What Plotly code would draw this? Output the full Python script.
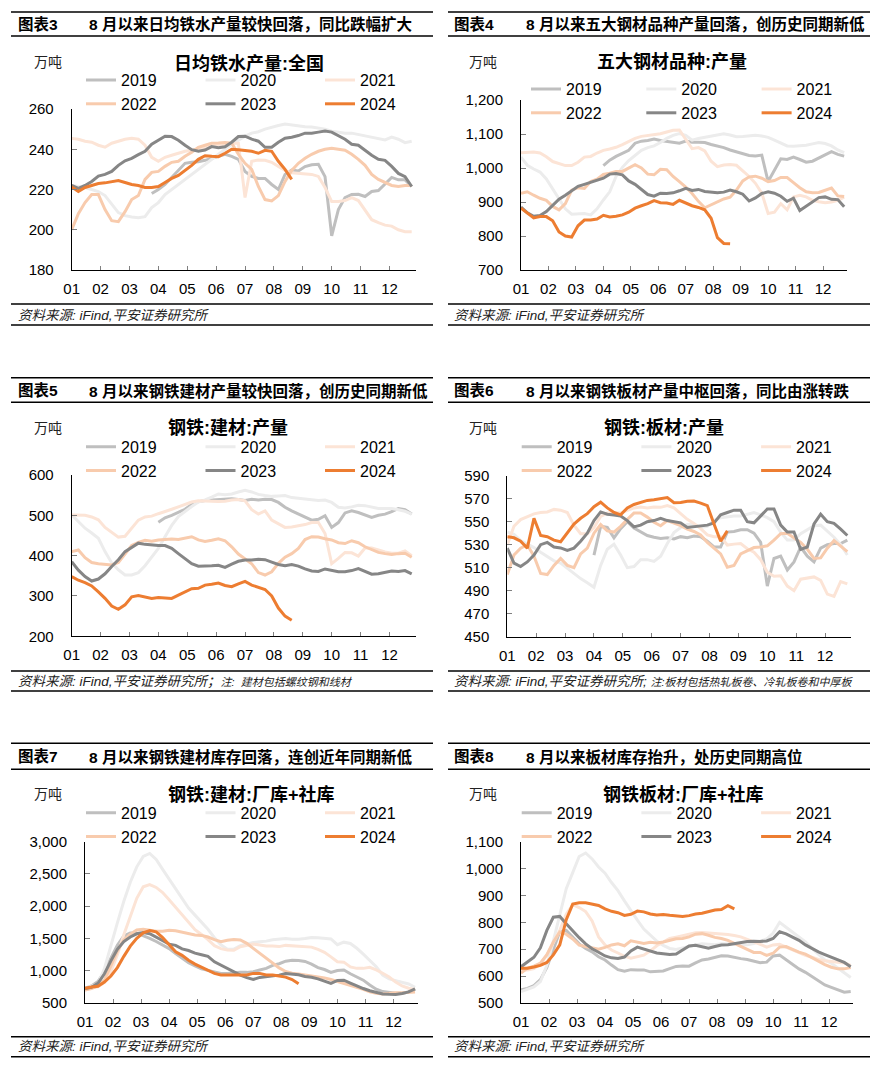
import plotly.graph_objects as go

W, H = 890, 1067
FONT = "Liberation Sans, Arial, Noto Sans CJK SC, sans-serif"

YEARS = ["2019", "2020", "2021", "2022", "2023", "2024"]
MONTH_LABELS = ["01", "02", "03", "04", "05", "06", "07", "08", "09", "10", "11", "12"]
WEEKS_PER_YEAR = 52

# ---------- Panel 1: 日均铁水产量:全国 (万吨), weekly ----------
P1_2019 = [None] * 12 + [218, 220, 222.5, 226, 230, 233, 233.5, 233.8, 234.5, 235.5, 236.5, 237.5, 236.5, 235, 229, 226.5,
                         225.5, 225.5, 222.5, 220, 227.5, 229.7, 229.2, 231.4, 232.3, 232.5, 226.4, 197, 210, 216, 217.5,
                         217.6, 216.5, 219, 219.5, 223, 226, 224.8, 224.8, 221.5]
P1_2020 = [222, 221.5, 221, 220, 219, 217, 213, 208.5, 207, 206.3, 206, 206.5, 211, 213.5, 217.5, 220, 222.5, 225, 227.5,
           230, 232.5, 235, 237.5, 240, 242.5, 244.5, 246.5, 248, 248.7, 250, 251, 251.8, 252.5, 252, 251.5, 251.2, 251,
           250.5, 250, 249, 248.5, 248, 248, 247.3, 246.5, 246, 245, 244.6, 246, 245, 243.3, 244]
P1_2021 = [245.4, 245, 244, 243.5, 242, 241, 243, 244, 245, 245.4, 245, 242, 236, 234, 236, 237, 238, 239, 239.5, 240,
           241, 241.5, 242, 242.5, 243, 243, 216, 234, 234.7, 234.5, 233.5, 231.5, 229.5, 228.3, 228, 228, 227.5, 226.5,
           221, 214, 214, 214.5, 216, 214.5, 210, 205, 203.5, 202.3, 201.8, 200, 199, 199]
P1_2022 = [200, 208, 213.5, 217.5, 217.5, 210, 204.5, 204, 209, 215, 217, 225, 228.5, 229, 231.5, 233.5, 234, 236.5, 238.5,
           241, 242, 243, 243.1, 243.3, 243, 237.5, 233, 230, 221.5, 215, 214.3, 217, 224, 229.5, 233, 235.5, 237.5, 239,
           240, 240.5, 240, 239.5, 237.5, 235, 232, 227.5, 225, 223.5, 222, 221.5, 222, 222]
P1_2023 = [222, 220.5, 222, 224, 226.7, 227.5, 229, 232, 234.3, 235.5, 237.3, 239, 242.5, 244.5, 246.5, 246.3, 244.5, 242,
           239.8, 239, 239.6, 241.3, 240.8, 241.2, 243.5, 246.3, 246.5, 245, 244, 241, 241, 243.5, 245.5, 246, 246.8, 248,
           248, 248.5, 249, 248.5, 246.8, 245, 242.5, 242, 239.5, 237, 235, 234.5, 231.5, 228, 226.4, 221.5]
P1_2024 = [221.3, 219, 221, 222, 223, 223.3, 224, 224.4, 223.5, 222.5, 222, 221, 221, 221.5, 223.5, 225.5, 227, 229.5, 232,
           235, 236.8, 236.5, 236.3, 238, 240, 239.8, 239.5, 239, 238, 239.5, 239, 234, 230, 225]

# ---------- Panel 2: 五大钢材品种:产量 ----------
P2_2019 = [None] * 13 + [1007, 1023, 1034, 1044, 1052, 1073, 1079, 1081, 1085, 1081, 1078, 1075, 1073, 1079, 1076, 1076,
                         1075, 1069, 1065, 1060, 1053, 1047, 1042, 1037, 1035, 1038, 960, 995, 1027, 1025, 1032, 1025,
                         1017, 1020, 1030, 1040, 1048, 1040, 1035]
P2_2020 = [1032, 1008, 997, 988, 968, 938, 908, 880, 864, 865, 866, 862, 880, 906, 930, 975, 1002, 1022, 1038, 1052, 1060,
           1065, 1075, 1087, 1096, 1101, 1096, 1082, 1087, 1090, 1094, 1097, 1101, 1097, 1092, 1093, 1094, 1096, 1094, 1090,
           1082, 1074, 1065, 1064, 1065, 1067, 1071, 1075, 1072, 1065, 1053, 1045]
P2_2021 = [1045, 1046, 1047, 1044, 1033, 1019, 1012, 1007, 1007, 1017, 1032, 1034, 1044, 1052, 1056, 1061, 1069, 1078,
           1087, 1093, 1095, 1098, 1101, 1106, 1111, 1112, 1085, 1057, 1060, 1050, 1020, 1004, 1009, 1010, 1008, 991, 975,
           955, 926, 866, 870, 895, 877, 915, 920, 915, 905, 901, 898, 900, 905, 914]
P2_2022 = [926, 930, 920, 911, 905, 887, 877, 895, 935, 942, 940, 960, 967, 981, 985, 990, 990, 1000, 1010, 1000, 982, 980,
           996, 995, 975, 960, 944, 925, 902, 883, 891, 900, 909, 914, 935, 962, 974, 976, 970, 960, 963, 972, 972, 957,
           942, 930, 927, 928, 934, 941, 918, 916]
P2_2023 = [885, 868, 858, 860, 872, 890, 908, 920, 933, 946, 952, 958, 962, 970, 982, 984, 980, 962, 952, 938, 922, 917,
           926, 925, 927, 933, 940, 934, 937, 931, 928, 927, 929, 935, 930, 923, 903, 912, 925, 930, 926, 917, 902, 911,
           875, 887, 900, 913, 915, 908, 907, 886]
P2_2024 = [882, 868, 853, 857, 857, 845, 812, 800, 797, 830, 847, 847, 850, 861, 856, 858, 862, 870, 882, 889, 895, 904,
           898, 897, 893, 905, 897, 889, 884, 877, 852, 795, 778, 777]

# ---------- Panel 3: 钢铁:建材:产量 ----------
P3_2019 = [None] * 13 + [483, 494, 500, 508, 515, 527, 534, 537, 538, 539, 541, 541, 539, 537, 540, 538, 540, 539, 532, 520,
                         511, 503, 494, 488, 490, 499, 470, 482, 506, 511, 507, 500, 495, 500, 503, 509, 517, 514, 503]
P3_2020 = [501, 484, 468, 456, 443, 410, 382, 365, 352, 352, 358, 375, 398, 418, 447, 475, 497, 510, 522, 533, 538, 545,
           553, 551, 553, 558, 562, 558, 552, 549, 547, 548, 549, 544, 542, 541, 538, 537, 538, 532, 520, 518, 521, 525,
           524, 520, 517, 517, 517, 514, 510, 503]
P3_2021 = [501, 501, 500, 496, 489, 470, 458, 446, 448, 467, 488, 496, 498, 504, 509, 515, 521, 527, 533, 536, 536, 535,
           534, 535, 538, 539, 536, 514, 503, 511, 488, 478, 470, 471, 474, 477, 482, 482, 455, 380, 393, 408, 407, 399,
           419, 419, 414, 409, 406, 406, 412, 400]
P3_2022 = [410, 414, 395, 383, 380, 378, 377, 383, 403, 425, 433, 438, 436, 439, 440, 441, 440, 443, 447, 439, 435, 438,
           442, 437, 422, 404, 392, 380, 358, 352, 360, 381, 396, 405, 418, 440, 447, 446, 442, 439, 432, 430, 437, 432,
           422, 414, 408, 405, 403, 405, 406, 396]
P3_2023 = [385, 364, 348, 337, 342, 355, 373, 390, 410, 420, 431, 428, 426, 425, 425, 418, 405, 392, 380, 374, 374, 375,
           376, 371, 379, 386, 389, 389, 391, 390, 384, 378, 375, 378, 374, 367, 362, 361, 367, 364, 360, 360, 363, 368,
           360, 354, 355, 359, 362, 361, 363, 355]
P3_2024 = [348, 339, 333, 325, 310, 294, 275, 267, 278, 298, 301, 297, 294, 296, 295, 294, 302, 309, 318, 319, 327, 329,
           332, 326, 323, 330, 336, 327, 321, 316, 300, 270, 250, 240]

# ---------- Panel 4: 钢铁:板材:产量 ----------
P4_2019 = [None] * 13 + [521, 546, 545, 536, 544, 550, 544.5, 541, 538, 536.5, 535.5, 536, 535, 537, 536, 537.5, 537, 533,
                         528, 528, 541, 541.5, 543, 543, 540, 532, 494, 518, 520, 508, 515, 528, 520, 515, 527, 530, 531,
                         531, 534]
P4_2020 = [541, 539, 533.5, 530.5, 527.5, 523.5, 519.5, 516, 514, 509.5, 505, 500.5, 497, 493, 512, 526, 530.5, 521, 510,
           511, 517, 517, 515.5, 520, 531, 540.5, 545, 547.5, 547.5, 545, 546, 551, 553.5, 554.5, 555, 555, 556.5, 558,
           556, 553.5, 550, 541, 534, 534, 539.5, 543, 546.5, 547, 542, 536.5, 530, 521]
P4_2021 = [530, 546, 551.8, 554, 556.8, 558, 558.5, 560.7, 560, 558, 547, 539.5, 539.5, 545, 554.5, 557.5, 558, 557.5,
           559.8, 562, 562.8, 562, 562.8, 562.5, 564, 562, 557, 552, 548.5, 544, 538.5, 537, 537, 529.7, 530.5, 531, 526.5,
           523.5, 517, 506, 502.5, 503, 494, 490, 500, 501, 502, 499, 487, 485, 498, 496]
P4_2022 = [504, 521, 527, 530, 520, 505, 504, 512, 518, 512, 510, 522, 527, 540, 547.5, 542, 541, 546, 552, 557.5, 557.5,
           554, 549.5, 546.5, 551, 549, 546.5, 543.5, 541.5, 538.5, 532, 527, 522, 510.5, 512, 522, 525, 527.5, 528, 529,
           534, 539.5, 540, 536, 532, 526, 518, 518.5, 527, 533.5, 529, 524]
P4_2023 = [527, 514, 511, 515, 521, 530, 532, 528, 527.2, 525, 527, 533, 540, 551, 558.5, 556.5, 555.8, 555, 551, 545.5,
           547, 550, 551, 553, 551, 550, 549, 545, 545.5, 546.5, 547, 549, 556, 558, 560, 560, 550, 549, 555, 561, 561,
           547, 541, 541, 526, 528, 548, 556.5, 550, 548.6, 543.5, 538]
P4_2024 = [537, 536, 533, 527, 553, 538, 537, 534, 532.6, 540, 548, 553, 557, 563, 567, 562, 558, 556, 562, 565, 567,
           568.5, 569, 570, 571, 566.5, 566.7, 567.8, 568, 566.2, 564, 548, 533, 542]

# ---------- Panel 5: 钢铁:建材:厂库+社库 ----------
P5_2019 = [722, 760, 830, 985, 1190, 1390, 1535, 1583, 1580, 1545, 1500, 1450, 1400, 1340, 1265, 1190, 1122, 1072, 1026,
           1002, 976, 955, 955, 966, 971, 971, 981, 1007, 1033, 1080, 1105, 1145, 1160, 1154, 1140, 1100, 1045, 1015, 970,
           1000, 1007, 950, 900, 850, 774, 710, 673, 657, 646, 645, 667, 710]
P5_2020 = [722, 760, 790, 1030, 1395, 1740, 2075, 2370, 2610, 2770, 2818, 2725, 2570, 2420, 2270, 2125, 1970, 1860, 1758,
           1640, 1510, 1400, 1330, 1333, 1384, 1410, 1434, 1447, 1456, 1478, 1492, 1496, 1484, 1484, 1497, 1514, 1510,
           1500, 1490, 1400, 1440, 1420, 1345, 1255, 1160, 1060, 930, 870, 843, 818, 790, 740]
P5_2021 = [696, 730, 745, 815, 985, 1245, 1555, 1850, 2120, 2300, 2335, 2290, 2210, 2100, 1980, 1875, 1745, 1635, 1560,
           1480, 1385, 1340, 1318, 1315, 1370, 1396, 1411, 1396, 1381, 1380, 1371, 1390, 1382, 1371, 1370, 1363, 1328,
           1282, 1212, 1135, 1130, 1056, 1033, 1033, 1049, 1010, 958, 898, 820, 760, 725, 705]
P5_2022 = [696, 718, 760, 850, 1070, 1300, 1475, 1565, 1628, 1640, 1624, 1610, 1610, 1624, 1617, 1595, 1570, 1550, 1545,
           1520, 1480, 1447, 1470, 1483, 1473, 1421, 1344, 1266, 1190, 1110, 1040, 985, 957, 947, 933, 916, 906, 885, 860,
           830, 797, 774, 749, 707, 671, 646, 634, 645, 654, 655, 655, 665]
P5_2023 = [722, 740, 800, 950, 1150, 1330, 1450, 1520, 1570, 1590, 1570, 1520, 1470, 1410, 1390, 1335, 1310, 1270, 1245,
           1220, 1135, 1080, 1028, 978, 927, 890, 860, 893, 903, 913, 928, 952, 947, 933, 908, 896, 870, 836, 800, 845,
           850, 805, 757, 720, 686, 656, 635, 630, 629, 643, 667, 715]
P5_2024 = [722, 745, 755, 820, 915, 1045, 1220, 1378, 1500, 1585, 1620, 1600, 1510, 1395, 1290, 1235, 1160, 1100, 1050,
           1000, 955, 930, 930, 940, 932, 930, 955, 955, 932, 930, 916, 897, 860, 795]

# ---------- Panel 6: 钢铁板材:厂库+社库 ----------
P6_2019 = [549, 554, 565, 587, 632, 697, 766, 770, 745, 720, 703, 690, 672, 660, 641, 624, 618, 624, 623, 623, 616, 617,
           619, 628, 636, 638, 637, 649, 660, 664, 670, 676, 675, 669, 665, 662, 657, 650, 652, 675, 678, 661, 641, 627,
           614, 599, 582, 567, 558, 550, 540, 543]
P6_2020 = [542, 550, 560, 580, 640, 730, 830, 925, 985, 1045, 1058, 1036, 1006, 983, 948, 918, 880, 843, 808, 775, 754,
           730, 714, 703, 699, 705, 710, 716, 720, 718, 717, 720, 720, 719, 716, 717, 721, 730, 738, 760, 800, 782, 763,
           747, 727, 703, 680, 660, 648, 630, 612, 595]
P6_2021 = [623, 623, 628, 645, 678, 722, 770, 830, 866, 855, 840, 805, 746, 716, 697, 686, 674, 667, 672, 678, 694, 713,
           727, 740, 745, 751, 757, 761, 762, 760, 759, 758, 755, 751, 746, 737, 726, 718, 708, 716, 718, 708, 696, 687,
           677, 670, 662, 657, 654, 652, 649, 640]
P6_2022 = [611, 630, 637, 648, 680, 727, 764, 756, 738, 715, 710, 704, 700, 707, 716, 720, 713, 731, 726, 721, 726, 723,
           727, 732, 739, 740, 746, 756, 758, 752, 744, 740, 733, 722, 710, 697, 688, 688, 677, 685, 708, 710, 699, 689,
           682, 668, 655, 643, 633, 627, 627, 632]
P6_2023 = [635, 652, 670, 705, 770, 819, 822, 795, 768, 743, 720, 702, 689, 675, 668, 666, 671, 694, 708, 701, 693, 686,
           683, 680, 682, 698, 712, 715, 710, 704, 710, 716, 717, 721, 724, 729, 730, 729, 731, 740, 765, 757, 745, 733,
           716, 702, 690, 680, 670, 658, 651, 635]
P6_2024 = [629, 629, 634, 640, 651, 679, 716, 810, 868, 873, 873, 868, 863, 850, 841, 836, 826, 830, 842, 839, 831, 827,
           829, 826, 824, 822, 825, 831, 834, 839, 846, 848, 862, 850]

SERIES = {
    1: [P1_2019, P1_2020, P1_2021, P1_2022, P1_2023, P1_2024],
    2: [P2_2019, P2_2020, P2_2021, P2_2022, P2_2023, P2_2024],
    3: [P3_2019, P3_2020, P3_2021, P3_2022, P3_2023, P3_2024],
    4: [P4_2019, P4_2020, P4_2021, P4_2022, P4_2023, P4_2024],
    5: [P5_2019, P5_2020, P5_2021, P5_2022, P5_2023, P5_2024],
    6: [P6_2019, P6_2020, P6_2021, P6_2022, P6_2023, P6_2024],
}

COLORS = {"2019": "#bfbfbf", "2020": "#ececec", "2021": "#fce4d6",
          "2022": "#f8cbad", "2023": "#868686", "2024": "#ed7d31"}
GROUP = {"2019": "a", "2022": "a", "2020": "b", "2023": "b", "2021": "c", "2024": "c"}

SOURCE = "资料来源: iFind,平安证券研究所"
PANELS = {
    1: dict(tag="图表3", header="8 月以来日均铁水产量较快回落，同比跌幅扩大", title="日均铁水产量:全国",
            footer=SOURCE, yr=(180, 260), dt=20, fmt="", col=0, row=0,
            plot=(71.7, 415.7, 109, 270), xend=51.6, title_c=(249, 63), leg=(81, 63.1), ew=74.5),
    2: dict(tag="图表4", header="8 月以来五大钢材品种产量回落，创历史同期新低", title="五大钢材品种:产量",
            footer=SOURCE, yr=(700, 1200), dt=100, fmt=",", col=1, row=0,
            plot=(521, 846.7, 100, 270), xend=51.4, title_c=(671.7, 62), leg=(526, 72.1), ew=70.3),
    3: dict(tag="图表5", header="8 月以来钢铁建材产量较快回落，创历史同期新低", title="钢铁:建材:产量",
            footer=SOURCE + "；<span style='font-size:11px'>注:  建材包括螺纹钢和线材</span>",
            yr=(200, 600), dt=100, fmt="", col=0, row=1,
            plot=(71.7, 415.7, 475, 636.3), xend=51.6, title_c=(228, 428.3), leg=(81, 429.8), ew=74.5),
    4: dict(tag="图表6", header="8 月以来钢铁板材产量中枢回落，同比由涨转跌", title="钢铁:板材:产量",
            footer=SOURCE + "; <span style='font-size:11px'>注:板材包括热轧板卷、冷轧板卷和中厚板</span>",
            yr=(450, 590), dt=20, fmt="", col=1, row=1,
            plot=(507.3, 851, 475.7, 636.7), xend=51.55, title_c=(664, 428), leg=(516.7, 429.8), ew=74.7),
    5: dict(tag="图表7", header="8 月以来钢铁建材库存回落，连创近年同期新低", title="钢铁:建材:厂库+社库",
            footer=SOURCE, yr=(500, 3000), dt=500, fmt=",", col=0, row=2,
            plot=(85, 418.3, 841.7, 1002.7), xend=51.5, title_c=(251, 794.3), leg=(81, 795.8), ew=74.5),
    6: dict(tag="图表8", header="8 月以来板材库存抬升，处历史同期高位", title="钢铁板材:厂库+社库",
            footer=SOURCE, yr=(500, 1100), dt=100, fmt=",", col=1, row=2,
            plot=(521, 853.3, 841.7, 1003), xend=51.4, title_c=(683.5, 794), leg=(516.7, 795.8), ew=74.7),
}

COLS = [dict(tag_x=16, head_x=87, rule=(11, 433), unit_x=32, foot_x=16),
        dict(tag_x=452, head_x=524, rule=(448, 870), unit_x=467, foot_x=452)]
ROWS = [dict(head_y=24, rules=(12, 36, 304, 325), unit_y=62, foot_y=315),
        dict(head_y=391, rules=(377.7, 402.3, 671, 691), unit_y=428, foot_y=681),
        dict(head_y=756.7, rules=(743.3, 769.3, 1036.7, 1056.7), unit_y=794, foot_y=1046.7)]


def fx(px):
    return px / W


def fy(py):
    return 1 - py / H


fig = go.Figure()
annotations = []
shapes = []
layout = {}
month_pos = [m * WEEKS_PER_YEAR / 12 for m in range(12)]

for i, p in PANELS.items():
    sfx = "" if i == 1 else str(i)
    leg_name = "legend" if i == 1 else f"legend{i}"
    for year, vals in zip(YEARS, SERIES[i]):
        fig.add_trace(go.Scatter(
            x=list(range(len(vals))), y=vals, mode="lines", name=year,
            line=dict(color=COLORS[year], width=3),
            xaxis="x" + sfx, yaxis="y" + sfx, legend=leg_name,
            legendgroup=f"p{i}{GROUP[year]}", hoverinfo="skip"))
    x0, x1, ytop, ybot = p["plot"]
    layout["xaxis" + sfx] = dict(
        domain=[fx(x0), fx(x1)], range=[0, p["xend"]], anchor="y" + sfx,
        tickmode="array", tickvals=month_pos, ticktext=MONTH_LABELS,
        ticks="inside", ticklen=4, tickcolor="#808080", tickwidth=1, showline=True, linecolor="black",
        linewidth=1, showgrid=False, zeroline=False, ticklabelstandoff=5,
        tickfont=dict(size=15, color="black", family=FONT), fixedrange=True)
    layout["yaxis" + sfx] = dict(
        domain=[fy(ybot), fy(ytop)], range=list(p["yr"]), anchor="x" + sfx,
        tickmode="linear", tick0=p["yr"][0], dtick=p["dt"], tickformat=p["fmt"],
        ticks="inside", ticklen=5, tickcolor="#808080", showline=True, linecolor="black",
        linewidth=1, showgrid=False, zeroline=False, ticklabelstandoff=14,
        tickfont=dict(size=15, color="black", family=FONT), fixedrange=True)
    lx, ly = p["leg"]
    layout[leg_name] = dict(
        orientation="h", traceorder="grouped", x=fx(lx), y=fy(ly), xanchor="left", yanchor="top",
        xref="paper", yref="paper", bgcolor="rgba(0,0,0,0)", borderwidth=0, itemwidth=30,
        entrywidth=p["ew"], entrywidthmode="pixels", tracegroupgap=0,
        font=dict(size=16, color="black", family=FONT), itemclick=False, itemdoubleclick=False)

    c = COLS[p["col"]]
    r = ROWS[p["row"]]
    annotations += [
        dict(text=f"<b>{p['tag']}</b>", x=fx(c["tag_x"]), y=fy(r["head_y"]), xanchor="left", yanchor="middle",
             font=dict(size=15.5, color="black", family=FONT)),
        dict(text=f"<b>{p['header']}</b>", x=fx(c["head_x"]), y=fy(r["head_y"]), xanchor="left",
             yanchor="middle", font=dict(size=15.5, color="black", family=FONT)),
        dict(text="万吨", x=fx(c["unit_x"]), y=fy(r["unit_y"]), xanchor="left", yanchor="middle",
             font=dict(size=14, color="#222", family=FONT)),
        dict(text=f"<b>{p['title']}</b>", x=fx(p["title_c"][0]), y=fy(p["title_c"][1]), xanchor="center",
             yanchor="middle", font=dict(size=18, color="black", family=FONT)),
        dict(text=f"<i>{p['footer']}</i>", x=fx(c["foot_x"]), y=fy(r["foot_y"]), xanchor="left",
             yanchor="middle", font=dict(size=13.5, color="#222", family=FONT)),
    ]
    for yy in r["rules"]:
        shapes.append(dict(type="line", xref="paper", yref="paper", x0=fx(c["rule"][0]), x1=fx(c["rule"][1]),
                           y0=fy(yy), y1=fy(yy), line=dict(color="black", width=1.5)))

for a in annotations:
    a.update(xref="paper", yref="paper", showarrow=False)

fig.update_layout(
    width=W, height=H, margin=dict(l=0, r=0, t=0, b=0, autoexpand=False),
    paper_bgcolor="white", plot_bgcolor="white",
    font=dict(family=FONT, color="black"),
    annotations=annotations, shapes=shapes, showlegend=True, **layout)

fig.write_html("out.html", config={"displayModeBar": False, "staticPlot": False},
               post_script="document.body.style.margin='0px';document.body.style.overflow='hidden';")
